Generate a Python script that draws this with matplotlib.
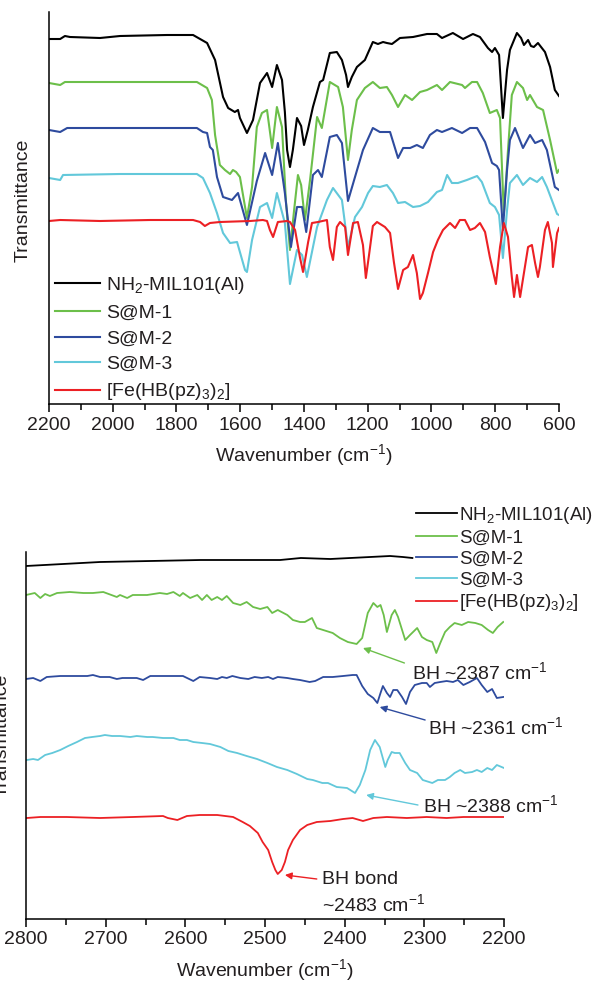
import matplotlib
matplotlib.use("Agg")
import matplotlib.pyplot as plt
from matplotlib.ticker import MultipleLocator

plt.rcParams['font.family'] = ['Liberation Sans', 'DejaVu Sans']
plt.rcParams['mathtext.fontset'] = 'custom'
plt.rcParams['mathtext.rm'] = 'Liberation Sans'
plt.rcParams['mathtext.it'] = 'Liberation Sans:italic'
plt.rcParams['mathtext.bf'] = 'Liberation Sans:bold'

# ---- top panel: 2200-600 cm-1 (transmittance, arbitrary offset units) ----
wn_mil = [2200, 2165, 2150, 2134, 2040, 1977, 1830, 1748, 1704, 1679, 1654, 1638, 1617, 1607,
          1601, 1579, 1560, 1538, 1516, 1500, 1485, 1469, 1460, 1453, 1444, 1435, 1422, 1409,
          1400, 1388, 1372, 1350, 1340, 1319, 1297, 1281, 1268, 1262, 1250, 1234, 1209, 1184,
          1168, 1152, 1140, 1124, 1099, 1058, 1014, 983, 967, 933, 901, 870, 848, 823, 810,
          801, 788, 776, 763, 754, 732, 719, 710, 697, 688, 679, 666, 644, 628, 613, 600]
t_mil = [365, 365, 368, 367, 366, 368, 369, 369, 361, 344, 307, 296, 292, 294,
         286, 271, 284, 321, 331, 317, 339, 324, 292, 254, 237, 254, 286, 278,
         259, 274, 297, 322, 324, 351, 352, 344, 329, 317, 327, 337, 344, 362,
         360, 362, 361, 360, 366, 367, 370, 370, 366, 371, 365, 370, 367, 356, 352,
         356, 349, 286, 334, 354, 371, 366, 359, 364, 358, 357, 361, 352, 337, 314, 308]

wn_s1 = [2200, 2165, 2150, 2040, 1883, 1736, 1704, 1689, 1679, 1664, 1648, 1632, 1623, 1613,
         1601, 1579, 1563, 1548, 1532, 1516, 1500, 1485, 1469, 1457, 1444, 1431, 1419, 1409,
         1397, 1381, 1359, 1344, 1319, 1293, 1278, 1262, 1250, 1234, 1209, 1184, 1162, 1140,
         1124, 1105, 1083, 1061, 1036, 1014, 983, 967, 942, 904, 895, 873, 857, 839, 817,
         795, 785, 773, 760, 748, 732, 713, 700, 691, 669, 650, 628, 606, 600]
t_s1 = [321, 319, 322, 322, 322, 322, 316, 304, 269, 239, 234, 230, 234, 232,
        227, 186, 217, 277, 291, 294, 256, 297, 277, 204, 154, 194, 229, 219,
        184, 224, 287, 276, 322, 317, 297, 244, 274, 304, 316, 322, 316, 317,
        309, 297, 309, 304, 312, 314, 319, 314, 322, 319, 316, 322, 322, 311, 291,
        294, 286, 189, 254, 309, 322, 316, 304, 309, 297, 294, 264, 231, 234]

wn_s2 = [2200, 2165, 2143, 1977, 1736, 1717, 1704, 1695, 1686, 1673, 1654, 1626, 1607, 1579,
         1548, 1522, 1500, 1482, 1460, 1441, 1422, 1406, 1393, 1372, 1356, 1344, 1319, 1297,
         1281, 1262, 1240, 1215, 1184, 1162, 1130, 1105, 1089, 1067, 1046, 1027, 1005, 983,
         967, 936, 904, 879, 857, 832, 810, 795, 788, 776, 763, 754, 738, 713, 691, 675,
         653, 638, 613, 600]
t_s2 = [274, 272, 276, 276, 276, 272, 271, 257, 254, 227, 207, 204, 211, 179,
        223, 251, 229, 261, 211, 157, 197, 197, 172, 229, 234, 227, 267, 269,
        261, 203, 227, 254, 276, 272, 272, 246, 256, 256, 259, 256, 269, 274,
        272, 276, 271, 276, 276, 262, 241, 238, 234, 174, 234, 264, 276, 256, 269, 261,
        264, 254, 217, 214]

wn_s3 = [2200, 2165, 2156, 1977, 1736, 1717, 1695, 1673, 1654, 1632, 1610, 1585, 1579, 1563,
         1538, 1516, 1500, 1485, 1460, 1444, 1422, 1406, 1391, 1359, 1328, 1309, 1281, 1262,
         1240, 1218, 1199, 1184, 1162, 1140, 1121, 1105, 1083, 1058, 1036, 1011, 983, 967,
         951, 936, 917, 889, 857, 842, 817, 801, 788, 776, 763, 754, 732, 713, 691, 669,
         653, 638, 606, 600]
t_s3 = [226, 224, 229, 230, 230, 226, 211, 191, 171, 161, 162, 134, 132, 164,
        197, 201, 186, 211, 181, 120, 154, 149, 127, 177, 204, 216, 204, 157,
        187, 197, 211, 218, 217, 219, 211, 201, 202, 197, 198, 202, 212, 214,
        229, 221, 221, 224, 228, 222, 201, 197, 189, 146, 194, 221, 229, 219, 226, 222,
        227, 217, 190, 189]

wn_fe = [2200, 2165, 2040, 1883, 1748, 1726, 1711, 1695, 1664, 1569, 1529, 1516, 1507, 1497,
         1482, 1453, 1444, 1428, 1413, 1403, 1387, 1375, 1356, 1328, 1319, 1309, 1297, 1287,
         1271, 1262, 1246, 1231, 1215, 1206, 1196, 1184, 1171, 1146, 1130, 1118, 1105, 1089,
         1074, 1058, 1046, 1036, 1027, 1011, 995, 980, 964, 942, 926, 911, 895, 879, 864,
         848, 832, 817, 798, 785, 773, 760, 748, 741, 732, 722, 710, 697, 685, 675, 666,
         660, 644, 635, 622, 619, 606, 600]
t_fe = [183, 184, 183, 184, 184, 182, 178, 181, 182, 183, 184, 183, 174, 167,
        182, 183, 182, 174, 147, 132, 162, 181, 182, 184, 157, 144, 177, 182,
        177, 149, 181, 182, 159, 126, 149, 178, 182, 177, 171, 142, 115, 134,
        137, 149, 131, 105, 111, 131, 152, 164, 174, 181, 176, 184, 184, 174, 176,
        181, 172, 147, 120, 157, 181, 167, 127, 107, 129, 107, 131, 157, 159, 141, 127,
        137, 174, 182, 161, 137, 171, 176]

# ---- bottom panel: 2800-2200 cm-1 ----
wn_mil_b = [2800, 2707, 2581, 2481, 2455, 2418, 2368, 2343, 2327, 2315]
t_mil_b = [353, 357, 359, 359, 361, 360, 362, 363, 362, 361]

wn_s1_b = [2800, 2789, 2782, 2776, 2770, 2761, 2745, 2728, 2716, 2703, 2686, 2682, 2673, 2666,
           2648, 2632, 2623, 2615, 2607, 2603, 2594, 2585, 2579, 2573, 2567, 2560, 2554, 2548,
           2540, 2531, 2523, 2515, 2506, 2497, 2491, 2484, 2472, 2465, 2456, 2450, 2441, 2435,
           2427, 2415, 2406, 2396, 2385, 2378, 2371, 2364, 2359, 2355, 2351, 2347, 2341, 2337,
           2333, 2324, 2318, 2309, 2303, 2297, 2290, 2285, 2280, 2274, 2268, 2262, 2253, 2245,
           2236, 2228, 2220, 2214, 2208, 2201]
t_s1_b = [324, 326, 321, 325, 323, 326, 327, 326, 326, 327, 322, 324, 321, 324,
          324, 326, 325, 327, 323, 326, 321, 324, 319, 324, 319, 322, 319, 323,
          316, 314, 317, 312, 310, 312, 306, 309, 304, 299, 297, 297, 301, 291,
          289, 286, 281, 277, 275, 281, 306, 316, 312, 314, 304, 287, 304, 309,
          302, 279, 284, 291, 282, 279, 277, 266, 276, 287, 292, 296, 294, 297,
          296, 294, 289, 286, 292, 297]

wn_s2_b = [2800, 2791, 2782, 2774, 2757, 2741, 2723, 2716, 2707, 2695, 2686, 2679, 2661, 2653,
           2644, 2632, 2615, 2603, 2590, 2582, 2569, 2560, 2554, 2548, 2541, 2531, 2521, 2513,
           2504, 2496, 2490, 2484, 2472, 2465, 2456, 2444, 2437, 2427, 2415, 2402, 2390, 2385,
           2378, 2371, 2364, 2359, 2355, 2352, 2347, 2343, 2339, 2334, 2328, 2323, 2318, 2312,
           2303, 2297, 2293, 2287, 2280, 2272, 2264, 2258, 2251, 2243, 2234, 2228, 2221, 2215,
           2209, 2201]
t_s2_b = [240, 241, 238, 242, 243, 243, 243, 244, 242, 242, 240, 241, 241, 239,
          243, 243, 243, 243, 238, 242, 241, 240, 242, 241, 243, 241, 240, 242,
          241, 242, 240, 242, 241, 240, 239, 237, 238, 242, 242, 243, 244, 244,
          233, 225, 221, 216, 226, 233, 226, 222, 229, 229, 222, 215, 227, 234,
          236, 236, 232, 236, 237, 238, 237, 239, 234, 237, 241, 234, 227, 230,
          221, 222]

wn_s3_b = [2799, 2791, 2785, 2776, 2767, 2757, 2747, 2736, 2726, 2717, 2707, 2701, 2692, 2682,
           2669, 2661, 2648, 2641, 2628, 2615, 2607, 2598, 2590, 2579, 2569, 2556, 2546, 2535,
           2523, 2510, 2497, 2485, 2472, 2460, 2447, 2440, 2428, 2421, 2410, 2397, 2387, 2381,
           2374, 2368, 2362, 2356, 2349, 2346, 2341, 2337, 2331, 2324, 2318, 2309, 2302, 2290,
           2283, 2274, 2268, 2262, 2255, 2249, 2240, 2234, 2228, 2221, 2215, 2209, 2203, 2200]
t_s3_b = [159, 160, 159, 164, 166, 169, 173, 177, 181, 182, 183, 184, 183, 183,
          182, 183, 182, 182, 181, 181, 179, 179, 177, 176, 175, 172, 168, 166,
          163, 160, 156, 152, 149, 145, 140, 139, 136, 136, 132, 131, 126, 134,
          149, 169, 179, 172, 152, 159, 167, 166, 166, 156, 149, 146, 139, 136,
          139, 139, 142, 146, 149, 146, 147, 149, 147, 151, 149, 154, 152, 151]

wn_fe_b = [2799, 2782, 2749, 2707, 2666, 2628, 2622, 2610, 2598, 2582, 2560, 2540, 2528, 2519,
           2509, 2503, 2496, 2491, 2487, 2484, 2479, 2475, 2471, 2465, 2456, 2447, 2435, 2418,
           2402, 2390, 2377, 2364, 2347, 2322, 2297, 2272, 2251, 2230, 2214, 2200]
t_fe_b = [101, 102, 102, 101, 102, 103, 101, 99, 103, 104, 104, 102, 97, 93,
          86, 77, 69, 57, 49, 45, 49, 57, 69, 79, 89, 94, 97, 98,
          100, 101, 98, 101, 102, 101, 102, 101, 102, 102, 102, 102]

labels = ['NH$_2$-MIL101(Al)', 'S@M-1', 'S@M-2', 'S@M-3', '[Fe(HB(pz)$_3$)$_2$]']
colors = ['#000000', '#6cbf4a', '#2e4b9e', '#62c8da', '#ec2024']

top_series = [(wn_mil, t_mil), (wn_s1, t_s1), (wn_s2, t_s2), (wn_s3, t_s3), (wn_fe, t_fe)]
bot_series = [(wn_mil_b, t_mil_b), (wn_s1_b, t_s1_b), (wn_s2_b, t_s2_b),
              (wn_s3_b, t_s3_b), (wn_fe_b, t_fe_b)]

# annotations: (text, text pos, arrow tail, arrow tip, color)
notes = [
    ('BH ~2387 cm$^{-1}$', (2316, 247), (2325, 256), (2377, 271), colors[1]),
    ('BH ~2361 cm$^{-1}$', (2295, 192), (2299, 199), (2356, 212), colors[2]),
    ('BH ~2388 cm$^{-1}$', (2302, 114), (2308, 114), (2373, 124), colors[3]),
    ('BH bond\n~2483 cm$^{-1}$', (2428, 26), (2435, 40), (2475, 44), colors[4]),
]

ink = '#231f20'
fs = 14

fig = plt.figure(figsize=(5.98, 9.82), dpi=100)
ax1 = fig.add_axes((49 / 598, 1 - 404 / 982, 510 / 598, 392 / 982))
ax2 = fig.add_axes((26 / 598, 1 - 919 / 982, 478 / 598, 367 / 982))


def style_axes(ax, major, minor):
    ax.spines[['top', 'right']].set_visible(False)
    ax.spines[['left', 'bottom']].set_linewidth(1.1)
    ax.set_yticks([])
    ax.xaxis.set_major_locator(MultipleLocator(major))
    ax.xaxis.set_minor_locator(MultipleLocator(minor))
    ax.tick_params(axis='x', which='major', direction='out', length=6, width=1.1,
                   labelsize=fs, labelcolor=ink, pad=3)
    ax.tick_params(axis='x', which='minor', direction='out', length=4, width=1.1)
    ax.set_xlabel('Wavenumber (cm$^{-1}$)', fontsize=fs, color=ink, labelpad=6)
    ax.set_ylabel('Transmittance', fontsize=fs, color=ink)


for (x, y), lab, c in zip(top_series, labels, colors):
    ax1.plot(x, y, color=c, lw=1.5, label=lab, solid_joinstyle='round')
ax1.set_xlim(2200, 600)
ax1.set_ylim(0, 392)
style_axes(ax1, 200, 100)
ax1.yaxis.set_label_coords(-0.035, 0.52)
ax1.legend(loc='lower left', bbox_to_anchor=(0.012, 0.004), frameon=False, fontsize=fs,
           handlelength=2.3, handletextpad=0.3, labelspacing=0.42, borderpad=0,
           borderaxespad=0, labelcolor=ink)

for (x, y), lab, c in zip(bot_series, labels, colors):
    ax2.plot(x, y, color=c, lw=1.3, label=lab, solid_joinstyle='round')
ax2.set_xlim(2800, 2200)
ax2.set_ylim(0, 367)
style_axes(ax2, 100, 50)
ax2.yaxis.set_label_coords(-0.033, 0.5)
ax2.legend(loc='upper left', bbox_to_anchor=(416 / 598, 1 - 505 / 982),
           bbox_transform=fig.transFigure, frameon=False, fontsize=13.5,
           handlelength=2.2, handletextpad=0.1, labelspacing=0.2, borderpad=0,
           borderaxespad=0, labelcolor=ink)

for txt, tpos, tail, tip, c in notes:
    ax2.annotate('', xy=tip, xytext=tail,
                 arrowprops=dict(arrowstyle='-|>', color=c, lw=1.0, mutation_scale=10,
                                 shrinkA=0, shrinkB=0))
    ax2.text(tpos[0], tpos[1], txt, fontsize=fs, color=ink, ha='left', va='center',
             linespacing=1.25)

fig.savefig('out.png', dpi=100)
